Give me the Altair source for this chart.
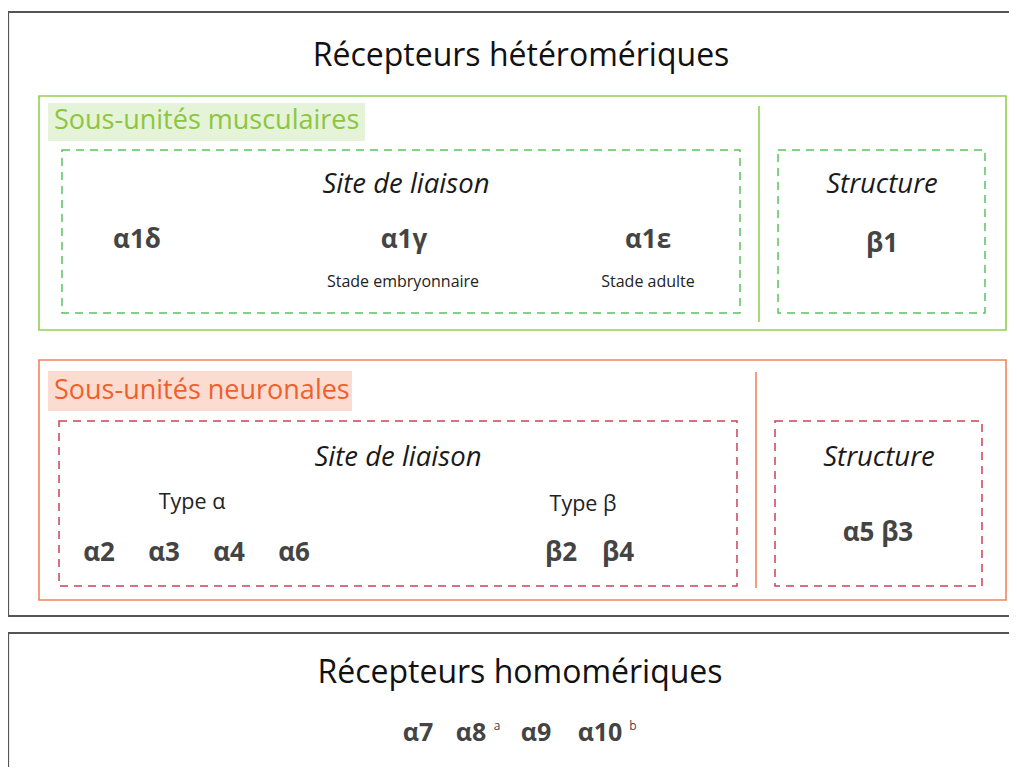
import altair as alt
import pandas as pd

# ---- text content ----
titles = ["Récepteurs hétéromériques", "Récepteurs homomériques"]
group_labels = ["Sous-unités musculaires", "Sous-unités neuronales"]
headers = ["Site de liaison", "Structure", "Site de liaison", "Structure"]
muscle_units = ["α1δ", "α1γ", "α1ε", "β1"]
muscle_notes = ["Stade embryonnaire", "Stade adulte"]
neuro_types = ["Type α", "Type β"]
neuro_units = ["α2", "α3", "α4", "α6", "β2", "β4", "α5  β3"]
homo_units = ["α7", "α8", "α9", "α10"]
homo_notes = ["a", "b"]

# ---- layout (page pixel coordinates) ----
title_pos = [(521, 56), (520, 673)]
label_pos = [(54, 121), (54, 391)]
header_pos = [(406, 185), (882, 185), (398, 458), (879, 458)]
muscle_unit_pos = [(137, 240), (404, 240), (648, 240), (882, 244)]
muscle_note_pos = [(403, 282), (648, 282)]
type_pos = [(192, 503), (583, 505)]
neuro_unit_pos = [(99, 553), (164, 553), (229, 553), (294, 553), (561, 553), (618, 553), (878, 533)]
homo_unit_pos = [(418, 733), (471, 733), (536, 733), (600, 733)]
homo_note_pos = [(497, 726), (633, 726)]

outer_boxes = [(8, 1040, 12, 616), (8, 1040, 633, 820)]
green_box = [(39, 1006, 96, 330)]
orange_box = [(39, 1006, 360, 600)]
green_label_bg = [(48, 365, 103, 141)]
orange_label_bg = [(48, 352, 371, 411)]
green_dashed = [(62, 740, 150, 313), (778, 985, 150, 313)]
red_dashed = [(59, 737, 421, 586), (775, 982, 421, 586)]
green_divider = [(759, 106, 322)]
orange_divider = [(756, 372, 588)]

W, H = 1001, 759
xs = alt.Scale(domain=[8, 8 + W], nice=False, zero=False)
ys = alt.Scale(domain=[8, 8 + H], nice=False, zero=False, reverse=True)

FONT = "Open Sans"


def rect_layer(boxes, **mark):
    df = pd.DataFrame(boxes, columns=["x", "x2", "y", "y2"])
    return alt.Chart(df).mark_rect(clip=False, **mark).encode(
        x=alt.X("x:Q", scale=xs, axis=None),
        x2="x2:Q",
        y=alt.Y("y:Q", scale=ys, axis=None),
        y2="y2:Q",
    )


def vrule_layer(rules, **mark):
    df = pd.DataFrame(rules, columns=["x", "y", "y2"])
    return alt.Chart(df).mark_rule(**mark).encode(
        x=alt.X("x:Q", scale=xs, axis=None),
        y=alt.Y("y:Q", scale=ys, axis=None),
        y2="y2:Q",
    )


def text_layer(labels, pos, **mark):
    df = pd.DataFrame({"label": labels,
                       "x": [p[0] for p in pos],
                       "y": [p[1] for p in pos]})
    return alt.Chart(df).mark_text(baseline="middle", font=FONT, **mark).encode(
        x=alt.X("x:Q", scale=xs, axis=None),
        y=alt.Y("y:Q", scale=ys, axis=None),
        text="label:N",
    )


layers = [
    rect_layer(outer_boxes, fill=None, fillOpacity=0, stroke="#555555", strokeWidth=2.2),
    rect_layer(green_box, fill=None, fillOpacity=0, stroke="#92d050", strokeWidth=1.6),
    rect_layer(orange_box, fill=None, fillOpacity=0, stroke="#f4845a", strokeWidth=1.6),
    rect_layer(green_label_bg, fill="#e5f3d9", stroke=None),
    rect_layer(orange_label_bg, fill="#fcdcd1", stroke=None),
    rect_layer(green_dashed, fill=None, fillOpacity=0, stroke="#55c45f", strokeWidth=1.5, strokeDash=[8, 6]),
    rect_layer(red_dashed, fill=None, fillOpacity=0, stroke="#cc4255", strokeWidth=1.5, strokeDash=[8, 6]),
    vrule_layer(green_divider, color="#92d050", strokeWidth=1.6),
    vrule_layer(orange_divider, color="#f4845a", strokeWidth=1.6),
    text_layer(titles, title_pos, fontSize=32, color="#111111", align="center"),
    text_layer(group_labels[:1], label_pos[:1], fontSize=27, color="#8cc63f", align="left"),
    text_layer(group_labels[1:], label_pos[1:], fontSize=27, color="#f05f2c", align="left"),
    text_layer(headers, header_pos, fontSize=27.5, fontStyle="italic", color="#1a1a1a", align="center"),
    text_layer(muscle_units, muscle_unit_pos, fontSize=26, fontWeight="bold", color="#444444", align="center"),
    text_layer(muscle_notes, muscle_note_pos, fontSize=16, color="#222222", align="center"),
    text_layer(neuro_types, type_pos, fontSize=21.5, color="#222222", align="center"),
    text_layer(neuro_units, neuro_unit_pos, fontSize=26, fontWeight="bold", color="#444444", align="center"),
    text_layer(homo_units, homo_unit_pos, fontSize=25, fontWeight="bold", color="#444444", align="center"),
    text_layer(homo_notes, homo_note_pos, fontSize=12, color="#444444", align="center"),
]

chart = alt.layer(*layers).properties(
    width=W, height=H, padding=0, autosize=alt.AutoSizeParams(type="none")
).configure_view(stroke=None)

chart.save("out.html", embed_options={"renderer": "svg", "actions": False})
